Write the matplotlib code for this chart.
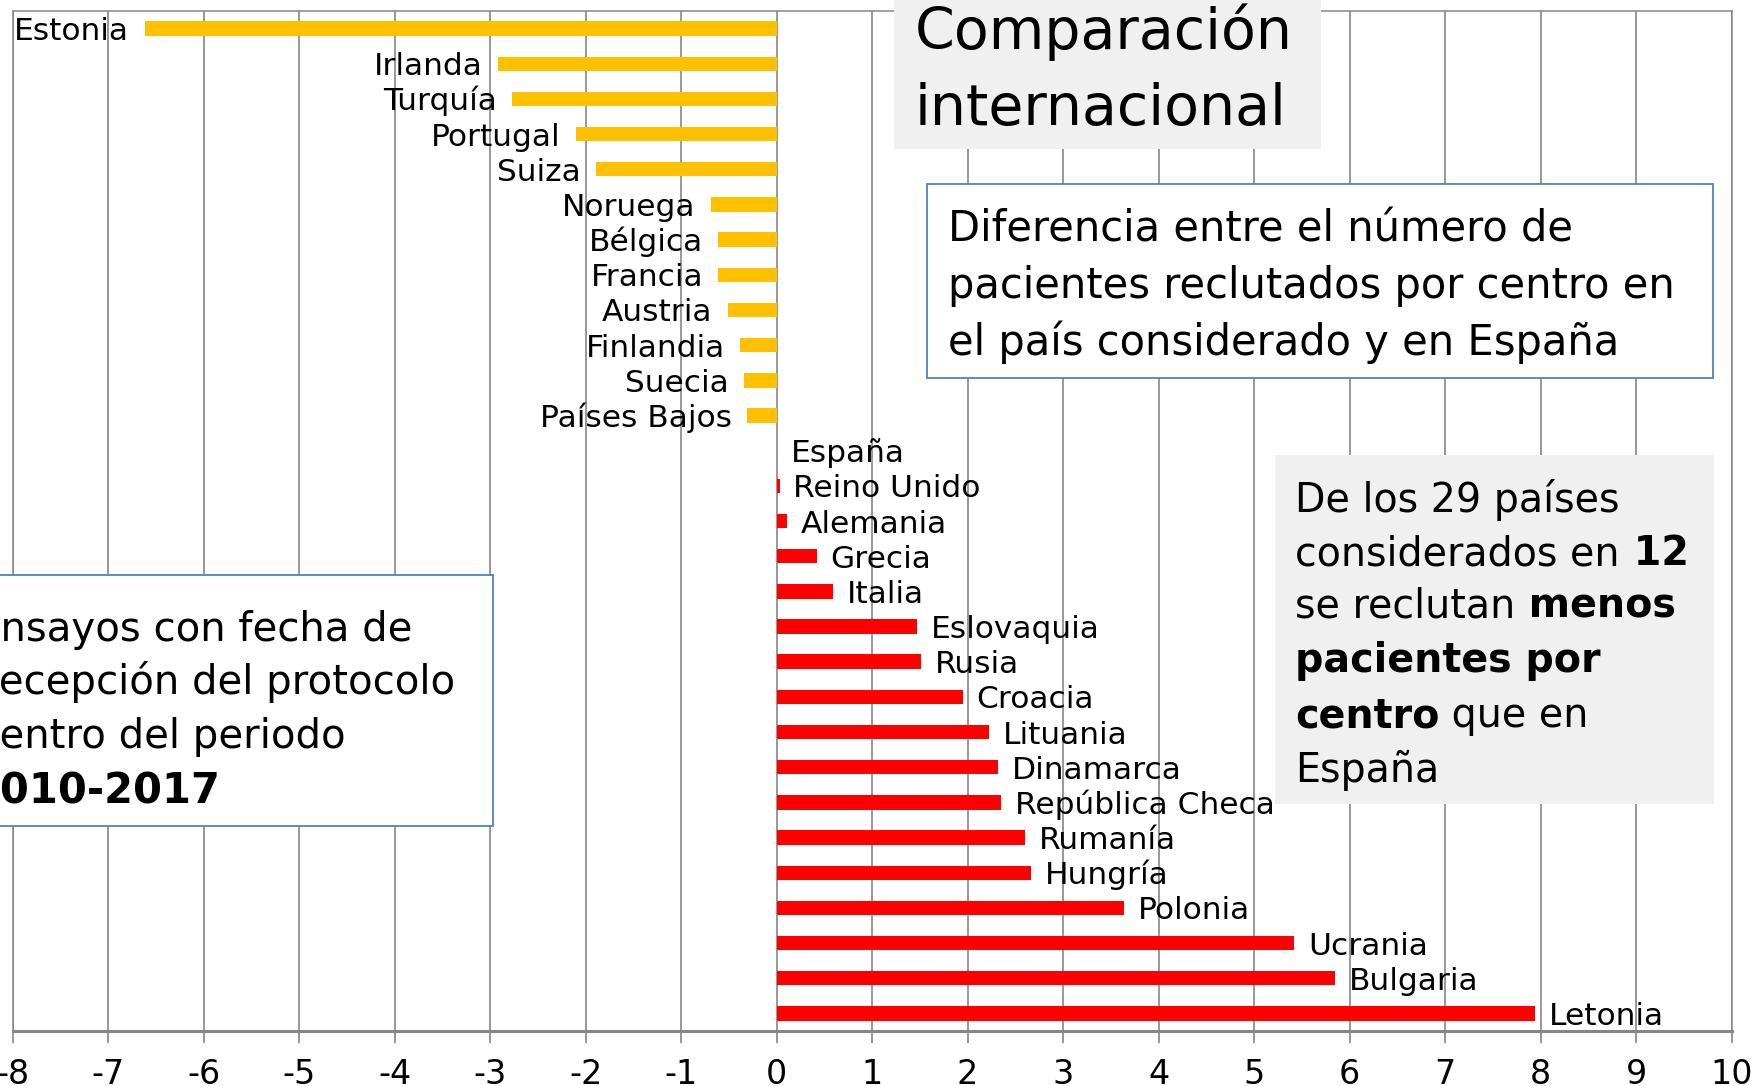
import matplotlib
matplotlib.use("Agg")
import matplotlib.pyplot as plt
from matplotlib.patches import Rectangle
from matplotlib.text import Annotation

plt.rcParams["font.family"] = ["DejaVu Sans"]
plt.rcParams["axes.unicode_minus"] = False

# diferencia de pacientes por centro respecto a España
paises = ["Estonia", "Irlanda", "Turquía", "Portugal", "Suiza", "Noruega",
          "Bélgica", "Francia", "Austria", "Finlandia", "Suecia", "Países Bajos",
          "España", "Reino Unido", "Alemania", "Grecia", "Italia", "Eslovaquia",
          "Rusia", "Croacia", "Lituania", "Dinamarca", "República Checa",
          "Rumanía", "Hungría", "Polonia", "Ucrania", "Bulgaria", "Letonia"]
diferencia = [-6.62, -2.92, -2.77, -2.10, -1.89, -0.69,
              -0.61, -0.61, -0.51, -0.38, -0.34, -0.31,
              0.0, 0.03, 0.11, 0.42, 0.59, 1.47,
              1.51, 1.95, 2.22, 2.32, 2.35,
              2.60, 2.66, 3.64, 5.42, 5.85, 7.94]
ticks_x = list(range(-8, 11))

W, H = 1752, 1086
fig = plt.figure(figsize=(W / 100, H / 100), dpi=100)


def fx(px):
    return px / W


def fy(py):
    return 1 - py / H


ax = fig.add_axes([fx(12.8), fy(1031), (1731.5 - 12.8) / W, (1031 - 11) / H])

colores = ["#FFC000" if v < 0 else "#FF0000" for v in diferencia]
pos = list(range(len(paises)))
ax.barh(pos, diferencia, height=0.41, color=colores, zorder=2)

ax.set_xlim(ticks_x[0], ticks_x[-1])
ax.set_ylim(len(paises) - 0.5, -0.5)
ax.set_xticks(ticks_x)
ax.set_xticklabels([str(t) for t in ticks_x])
ax.set_yticks([])
ax.grid(axis="x", color="#868686", lw=1.2)
ax.set_axisbelow(True)
ax.tick_params(axis="x", direction="out", length=8.6, width=1.2,
               color="#868686", labelsize=24, pad=11)
for lado, sp in ax.spines.items():
    sp.set_color("#868686")
    sp.set_linewidth(2.2 if lado == "bottom" else 1.1)

# etiquetas de país junto al extremo de cada barra
for y, (pais, v) in enumerate(zip(paises, diferencia)):
    if v < 0:
        ax.annotate(pais, xy=(v, y), xytext=(-11, -8.3), textcoords="offset points",
                    ha="right", va="baseline", fontsize=22.5, zorder=5)
    else:
        ax.annotate(pais, xy=(v, y), xytext=(10, -8.3), textcoords="offset points",
                    ha="left", va="baseline", fontsize=22.5, zorder=5)


def caja(x0, y0, x1, y1, fc, ec=None):
    r = Rectangle((fx(x0), fy(y1)), (x1 - x0) / W, (y1 - y0) / H,
                  transform=fig.transFigure, facecolor=fc,
                  edgecolor=ec if ec else "none", lw=1.3, zorder=3)
    fig.add_artist(r)


def linea(x, y, partes, size):
    prev = None
    for s, negrita in partes:
        peso = "bold" if negrita else "normal"
        if prev is None:
            prev = fig.text(fx(x), fy(y), s, fontsize=size, fontweight=peso,
                            ha="left", va="baseline", zorder=6)
        else:
            prev = Annotation(s, xy=(1, 0), xycoords=prev, fontsize=size,
                              fontweight=peso, ha="left", va="bottom", zorder=6)
            fig.add_artist(prev)


# título
caja(894, 0, 1321, 149, "#F0F0F0")
linea(915, 49, [("Comparación", False)], 41)
linea(915, 125, [("internacional", False)], 41)

# descripción de la medida
caja(927, 184, 1713, 378, "white", "#4F81BD")
linea(948, 242, [("Diferencia entre el número de", False)], 30)
linea(948, 298, [("pacientes reclutados por centro en", False)], 30)
linea(948, 355, [("el país considerado y en España", False)], 30)

# periodo de los ensayos (el cuadro sale por el borde izquierdo)
caja(-10, 575, 493, 826, "white", "#4F81BD")
linea(-25, 641, [("Ensayos con fecha de", False)], 29)
linea(-17, 694, [("recepción del protocolo", False)], 29)
linea(-26, 748, [("dentro del periodo", False)], 29)
linea(-28, 803, [("2010-2017", True)], 30)

# resumen
caja(1275, 455, 1714, 804, "#F0F0F0")
linea(1295, 512, [("De los 29 países", False)], 28.5)
linea(1295, 565, [("considerados en", False), (" 12", True)], 28.5)
linea(1295, 618, [("se reclutan", False), (" menos", True)], 28.5)
linea(1295, 672, [("pacientes por", True)], 28.5)
linea(1295, 727, [("centro", True), (" que en", False)], 28.5)
linea(1295, 782, [("España", False)], 28.5)

fig.savefig("out.png", dpi=100)
